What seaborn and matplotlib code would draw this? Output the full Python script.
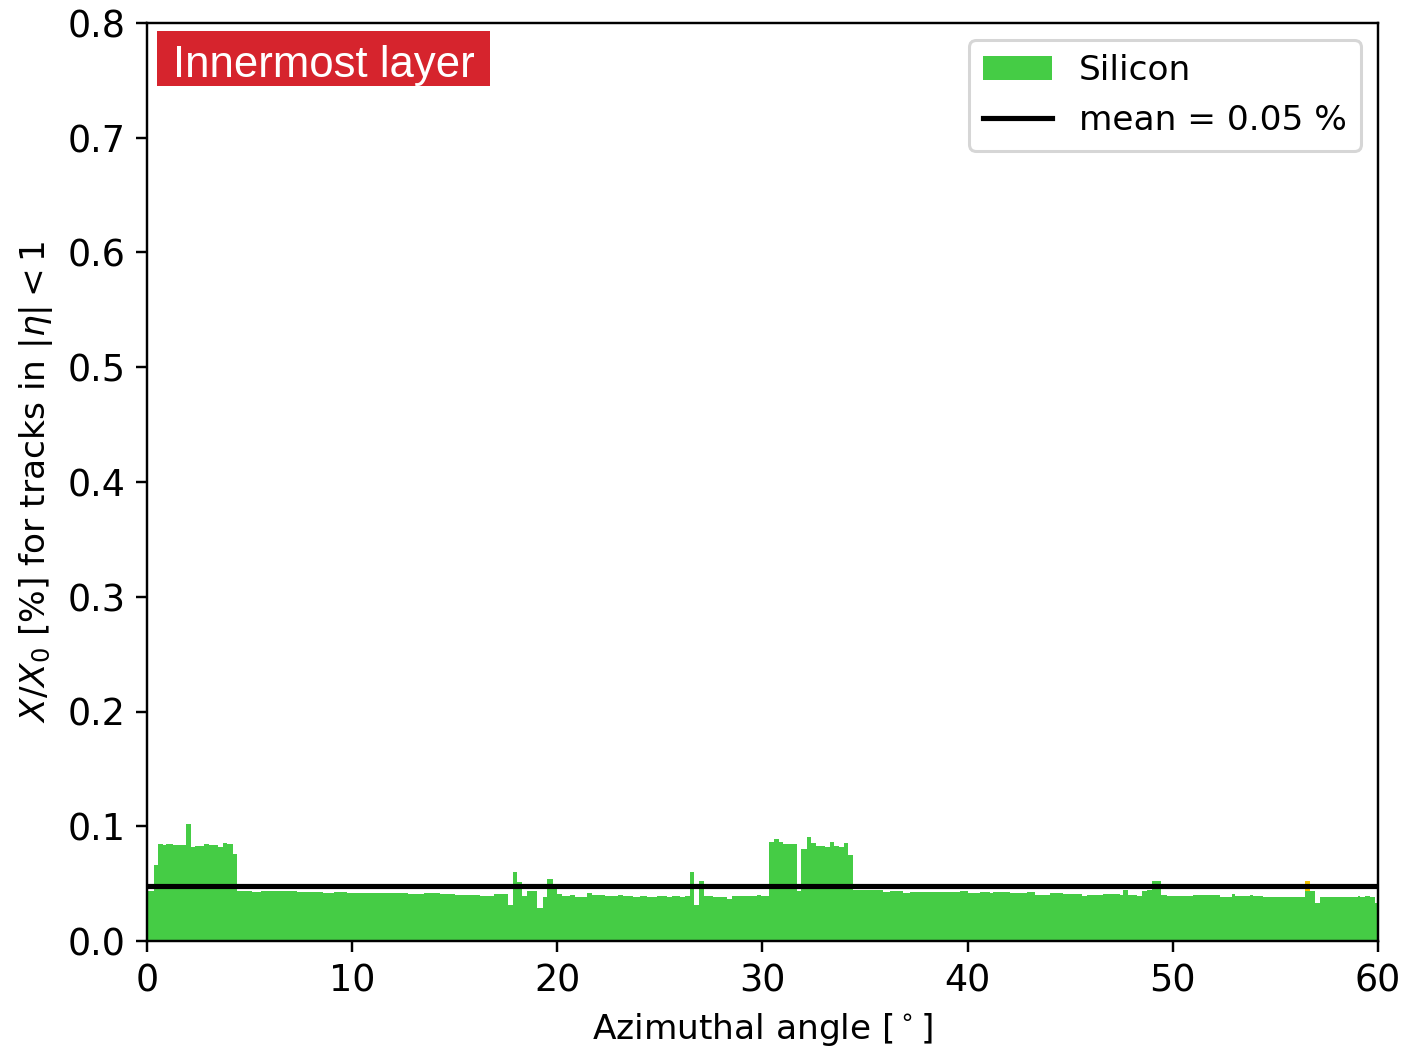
import numpy as np
import pandas as pd
import matplotlib
matplotlib.use("Agg")
import matplotlib.pyplot as plt
from matplotlib.patches import Patch, Rectangle
from matplotlib.lines import Line2D
import seaborn as sns

# Azimuthal bin edges [deg] of the silicon material profile
phi_edges = [
    0.00, 0.33, 0.55, 0.77, 0.95, 1.25, 1.90, 2.13, 2.35, 2.80, 3.00, 3.45, 3.70,
    3.90, 4.18, 4.39, 5.10, 5.55, 5.85, 6.50, 7.30, 7.80, 8.60, 9.10, 9.75, 10.40,
    11.05, 11.80, 12.70, 13.50, 14.30, 15.00, 15.60, 16.25, 16.90, 17.61, 17.85,
    18.05, 18.30, 18.50, 18.80, 19.00, 19.30, 19.50, 19.80, 20.00, 20.25, 20.62,
    20.86, 21.43, 21.67, 22.32, 22.97, 23.22, 23.70, 24.03, 24.35, 24.84, 25.33,
    25.57, 25.98, 26.22, 26.47, 26.65, 26.90, 27.13, 27.60, 28.25, 28.50, 29.00,
    29.72, 29.95, 30.33, 30.56, 30.78, 31.00, 31.67, 31.90, 32.15, 32.35, 32.59,
    33.05, 33.29, 33.48, 33.74, 33.97, 34.18, 34.39, 35.32, 35.89, 36.21, 36.86,
    37.19, 37.68, 38.16, 38.81, 39.63, 40.00, 40.60, 41.09, 41.25, 42.06, 42.88,
    43.28, 44.01, 44.66, 45.07, 45.56, 45.80, 46.61, 47.42, 47.59, 47.83, 48.24,
    48.48, 48.73, 48.97, 49.41, 49.70, 50.67, 51.00, 52.30, 52.87, 53.03, 53.76,
    53.92, 54.41, 56.44, 56.68, 56.93, 57.17, 58.80, 59.04, 59.12, 59.37, 59.61,
    59.86, 60.00,
]

# Radiation length fraction X/X0 [%] of silicon in each bin
silicon_x0 = [
    0.0440, 0.0662, 0.0848, 0.0837, 0.0843, 0.0834, 0.1022, 0.0816, 0.0827,
    0.0848, 0.0834, 0.0816, 0.0854, 0.0843, 0.0758, 0.0440, 0.0427, 0.0433,
    0.0437, 0.0435, 0.0430, 0.0427, 0.0420, 0.0424, 0.0418, 0.0421, 0.0414,
    0.0417, 0.0412, 0.0415, 0.0408, 0.0405, 0.0398, 0.0395, 0.0410, 0.0312,
    0.0605, 0.0515, 0.0395, 0.0432, 0.0438, 0.0290, 0.0383, 0.0540, 0.0497,
    0.0410, 0.0392, 0.0401, 0.0386, 0.0415, 0.0401, 0.0392, 0.0404, 0.0392,
    0.0384, 0.0389, 0.0386, 0.0392, 0.0386, 0.0389, 0.0381, 0.0392, 0.0604,
    0.0314, 0.0523, 0.0389, 0.0383, 0.0366, 0.0392, 0.0389, 0.0398, 0.0392,
    0.0863, 0.0886, 0.0860, 0.0842, 0.0438, 0.0804, 0.0906, 0.0851, 0.0828,
    0.0816, 0.0863, 0.0828, 0.0822, 0.0857, 0.0749, 0.0444, 0.0441, 0.0430,
    0.0436, 0.0421, 0.0430, 0.0427, 0.0424, 0.0430, 0.0433, 0.0415, 0.0424,
    0.0418, 0.0427, 0.0415, 0.0427, 0.0404, 0.0415, 0.0407, 0.0413, 0.0395,
    0.0401, 0.0410, 0.0404, 0.0444, 0.0398, 0.0389, 0.0433, 0.0444, 0.0523,
    0.0398, 0.0392, 0.0389, 0.0398, 0.0386, 0.0407, 0.0392, 0.0401, 0.0389,
    0.0384, 0.0439, 0.0439, 0.0328, 0.0386, 0.0381, 0.0392, 0.0381, 0.0392,
    0.0381, 0.0328,
]

# Small non-silicon contribution (total height of that bin)
other_edges = [56.44, 56.68]
other_x0 = [0.0523]

mean_x0 = 0.048

SILICON_GREEN = "#45cc45"
OTHER_GOLD = "#f2c200"
LABEL_RED = "#d6242d"

edges = np.asarray(phi_edges)
centers = 0.5 * (edges[:-1] + edges[1:])
df = pd.DataFrame({"phi": centers, "x0": silicon_x0})
df_other = pd.DataFrame({"phi": [0.5 * (other_edges[0] + other_edges[1])], "x0": other_x0})

DPI = 219
fig = plt.figure(figsize=(1404 / DPI, 1048 / DPI), dpi=DPI)
ax = fig.add_axes([147 / 1404, 1 - 941 / 1048, (1378 - 147) / 1404, 918 / 1048])

sns.histplot(data=df_other, x="phi", weights="x0", bins=other_edges,
             element="step", fill=True, color=OTHER_GOLD, alpha=1.0,
             linewidth=0, ax=ax, zorder=1)
sns.histplot(data=df, x="phi", weights="x0", bins=phi_edges,
             element="step", fill=True, color=SILICON_GREEN, alpha=1.0,
             linewidth=0, ax=ax, zorder=2)

ax.axhline(mean_x0, color="black", lw=1.7, zorder=3)

ax.set_xlim(0, 60)
ax.set_ylim(0, 0.8)
ax.set_xticks(np.arange(0, 61, 10))
ax.set_yticks(np.arange(0, 0.81, 0.1))
ax.yaxis.set_major_formatter(matplotlib.ticker.FormatStrFormatter("%.1f"))
ax.tick_params(labelsize=12, length=3.5, width=0.8)
for sp in ax.spines.values():
    sp.set_linewidth(0.8)

ax.set_xlabel(r"Azimuthal angle [$^\circ$]", fontsize=11.3)
ax.set_ylabel(r"$X/X_0$ [%] for tracks in $|\eta| < 1$", fontsize=11.3)

handles = [
    Patch(facecolor=SILICON_GREEN, edgecolor="none", label="Silicon"),
    Line2D([0], [0], color="black", lw=1.7, label=f"mean = {mean_x0:.2f} %"),
]
ax.legend(handles=handles, loc="upper right", fontsize=11.3)

# Layer tag in the top-left corner
ax.add_patch(Rectangle((10 / 1231, (941 - 86) / 918), 333 / 1231, 55 / 918,
                       transform=ax.transAxes, facecolor=LABEL_RED,
                       edgecolor="none", zorder=5))
ax.text((323.5 - 147) / 1231, (941 - 76.7) / 918, "Innermost layer",
        transform=ax.transAxes, ha="center", va="baseline", color="white",
        fontsize=14.4, family="Liberation Sans", zorder=6)

fig.savefig("out.png", dpi=DPI)
